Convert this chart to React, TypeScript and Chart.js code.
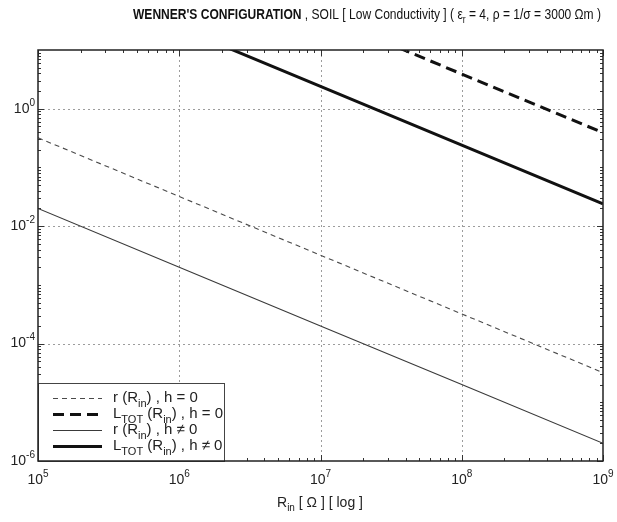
import React, { useEffect, useRef } from 'react';
import { Chart, registerables } from 'chart.js';

Chart.register(...registerables);

// ---- data ----
const R_IN = [1e5, 1e6, 1e7, 1e8, 1e9];
const R_H0 = [0.32, 0.032, 0.0032, 3.2e-4, 3.2e-5];
const LTOT_H0 = [3900, 390, 39, 3.9, 0.39];
const R_HN0 = [0.02, 0.002, 2e-4, 2e-5, 2e-6];
const LTOT_HN0 = [240, 24, 2.4, 0.24, 0.024];

const X_TICK_EXP = [5, 6, 7, 8, 9];
const Y_TICK_EXP = [-6, -4, -2, 0];
const Y_DECADES = [-6, -5, -4, -3, -2, -1, 0];

type Seg = { t: string; sub?: boolean; sup?: boolean; bold?: boolean };

const LEGEND_LABELS: Seg[][] = [
  [{ t: 'r (R' }, { t: 'in', sub: true }, { t: ') , h = 0' }],
  [{ t: 'L' }, { t: 'TOT', sub: true }, { t: ' (R' }, { t: 'in', sub: true }, { t: ') , h = 0' }],
  [{ t: 'r (R' }, { t: 'in', sub: true }, { t: ') , h \u2260 0' }],
  [{ t: 'L' }, { t: 'TOT', sub: true }, { t: ' (R' }, { t: 'in', sub: true }, { t: ') , h \u2260 0' }],
];

const TITLE: Seg[] = [
  { t: "WENNER'S CONFIGURATION", bold: true },
  { t: ' , SOIL [ Low Conductivity ] ( \u03b5' },
  { t: 'r', sub: true },
  { t: ' = 4, \u03c1 = 1/\u03c3 = 3000 \u03a9m )' },
];

const X_TITLE: Seg[] = [{ t: 'R' }, { t: 'in', sub: true }, { t: ' [ \u03a9 ] [ log ]' }];

const FAMILY = "'Liberation Sans', Arial, sans-serif";

function segFont(s: Seg, size: number) {
  const sz = s.sub || s.sup ? Math.round(size * 0.72) : size;
  return `${s.bold ? 'bold ' : ''}${sz}px ${FAMILY}`;
}

function measureSegs(ctx: CanvasRenderingContext2D, segs: Seg[], size: number) {
  let w = 0;
  for (const s of segs) {
    ctx.font = segFont(s, size);
    w += ctx.measureText(s.t).width;
  }
  return w;
}

function drawSegs(ctx: CanvasRenderingContext2D, segs: Seg[], x: number, y: number, size: number) {
  let cx = x;
  ctx.textBaseline = 'middle';
  ctx.textAlign = 'left';
  for (const s of segs) {
    ctx.font = segFont(s, size);
    const dy = s.sub ? size * 0.38 : s.sup ? -size * 0.42 : 0;
    ctx.fillText(s.t, cx, y + dy);
    cx += ctx.measureText(s.t).width;
  }
  return cx;
}

const STYLES = [
  { width: 1.1, dash: [5, 4], color: '#4a4a4a' },
  { width: 3, dash: [11, 6], color: '#111111' },
  { width: 1.1, dash: [] as number[], color: '#3a3a3a' },
  { width: 3, dash: [] as number[], color: '#111111' },
];

const decor = {
  id: 'decor',
  beforeDatasetsDraw(chart: any) {
    const { ctx, chartArea: a, scales } = chart;
    const x = scales.x, y = scales.y;
    ctx.save();
    ctx.strokeStyle = '#9c9c9c';
    ctx.lineWidth = 1;
    ctx.setLineDash([2, 3]);
    for (const e of X_TICK_EXP) {
      const px = Math.round(x.getPixelForValue(Math.pow(10, e))) + 0.5;
      if (px <= a.left + 2 || px >= a.right - 2) continue;
      ctx.beginPath(); ctx.moveTo(px, a.top); ctx.lineTo(px, a.bottom); ctx.stroke();
    }
    for (const e of Y_TICK_EXP) {
      const py = Math.round(y.getPixelForValue(Math.pow(10, e))) + 0.5;
      if (py <= a.top + 2 || py >= a.bottom - 2) continue;
      ctx.beginPath(); ctx.moveTo(a.left, py); ctx.lineTo(a.right, py); ctx.stroke();
    }
    ctx.restore();
  },
  afterDatasetsDraw(chart: any) {
    const { ctx, chartArea: a, scales } = chart;
    const x = scales.x, y = scales.y;
    ctx.save();
    ctx.setLineDash([]);
    ctx.strokeStyle = '#333';
    ctx.lineWidth = 1;
    // ticks on x (top and bottom)
    for (let e = 5; e <= 9; e++) {
      for (let m = 1; m <= 9; m++) {
        const v = m * Math.pow(10, e);
        if (v > 1e9 * 1.0001) break;
        const px = Math.round(x.getPixelForValue(v)) + 0.5;
        const len = m === 1 ? 6 : 3;
        ctx.beginPath();
        ctx.moveTo(px, a.bottom); ctx.lineTo(px, a.bottom - len);
        ctx.moveTo(px, a.top); ctx.lineTo(px, a.top + len);
        ctx.stroke();
      }
    }
    // ticks on y (left and right)
    for (const e of Y_DECADES) {
      for (let m = 1; m <= 9; m++) {
        const v = m * Math.pow(10, e);
        if (v > 10 * 1.0001) break;
        const py = Math.round(y.getPixelForValue(v)) + 0.5;
        const len = m === 1 && Y_TICK_EXP.includes(e) ? 6 : 3;
        ctx.beginPath();
        ctx.moveTo(a.left, py); ctx.lineTo(a.left + len, py);
        ctx.moveTo(a.right, py); ctx.lineTo(a.right - len, py);
        ctx.stroke();
      }
    }

    // legend box
    const lx0 = a.left, ly0 = 383, lx1 = 224, ly1 = a.bottom;
    ctx.fillStyle = '#fff';
    ctx.fillRect(lx0, ly0, lx1 - lx0, ly1 - ly0);
    ctx.strokeStyle = '#444';
    ctx.lineWidth = 1;
    ctx.strokeRect(lx0 + 0.5, ly0 + 0.5, lx1 - lx0, ly1 - ly0);
    const rows = [398, 414, 430, 446];
    rows.forEach((ry, i) => {
      const st = STYLES[i];
      ctx.save();
      ctx.strokeStyle = st.color;
      ctx.lineWidth = st.width;
      ctx.setLineDash(st.dash);
      ctx.beginPath();
      ctx.moveTo(53, ry + 0.5); ctx.lineTo(102, ry + 0.5);
      ctx.stroke();
      ctx.restore();
      ctx.fillStyle = '#222';
      drawSegs(ctx, LEGEND_LABELS[i], 113, ry, 15);
    });

    // plot box
    ctx.strokeStyle = '#222';
    ctx.lineWidth = 1.5;
    ctx.strokeRect(a.left, a.top, a.right - a.left, a.bottom - a.top);

    // tick labels
    ctx.fillStyle = '#222';
    for (const e of X_TICK_EXP) {
      const px = x.getPixelForValue(Math.pow(10, e));
      const segs: Seg[] = [{ t: '10' }, { t: String(e), sup: true }];
      const w = measureSegs(ctx, segs, 14);
      drawSegs(ctx, segs, px - w / 2, a.bottom + 19, 14);
    }
    for (const e of Y_TICK_EXP) {
      const py = y.getPixelForValue(Math.pow(10, e));
      const segs: Seg[] = [{ t: '10' }, { t: e < 0 ? '-' + Math.abs(e) : String(e), sup: true }];
      const w = measureSegs(ctx, segs, 14);
      drawSegs(ctx, segs, a.left - 3 - w, py, 14);
    }

    // x title
    {
      const w = measureSegs(ctx, X_TITLE, 14);
      drawSegs(ctx, X_TITLE, 320 - w / 2, 503, 14);
    }

    // chart title (condensed)
    {
      const size = 14;
      const natural = measureSegs(ctx, TITLE, size);
      const target = 468;
      const sx = target / natural;
      ctx.save();
      ctx.translate(133, 15);
      ctx.scale(sx, 1);
      ctx.fillStyle = '#111';
      drawSegs(ctx, TITLE, 0, 0, size);
      ctx.restore();
    }
    ctx.restore();
  },
};

export default function App() {
  const ref = useRef<HTMLCanvasElement>(null);
  useEffect(() => {
    if (!ref.current) return;
    const mk = (d: number[]) => R_IN.map((r, i) => ({ x: r, y: d[i] }));
    const series = [R_H0, LTOT_H0, R_HN0, LTOT_HN0];
    const chart = new Chart(ref.current, {
      type: 'line',
      data: {
        datasets: series.map((d, i) => ({
          data: mk(d),
          borderColor: STYLES[i].color,
          borderWidth: STYLES[i].width,
          borderDash: STYLES[i].dash,
          pointRadius: 0,
          fill: false,
          tension: 0,
        })),
      },
      options: {
        animation: false,
        responsive: false,
        devicePixelRatio: 1,
        layout: { padding: { left: 38, right: 14, top: 50, bottom: 61 } },
        plugins: { legend: { display: false }, tooltip: { enabled: false }, title: { display: false } },
        scales: {
          x: { type: 'logarithmic', min: 1e5, max: 1e9, display: false },
          y: { type: 'logarithmic', min: 1e-6, max: 10, display: false },
        },
      },
      plugins: [decor],
    } as any);
    return () => chart.destroy();
  }, []);
  return (
    <div style={{ position: 'fixed', left: 0, top: 0, width: 617, height: 522, background: '#fff' }}>
      <canvas ref={ref} width={617} height={522} style={{ display: 'block' }} />
    </div>
  );
}
